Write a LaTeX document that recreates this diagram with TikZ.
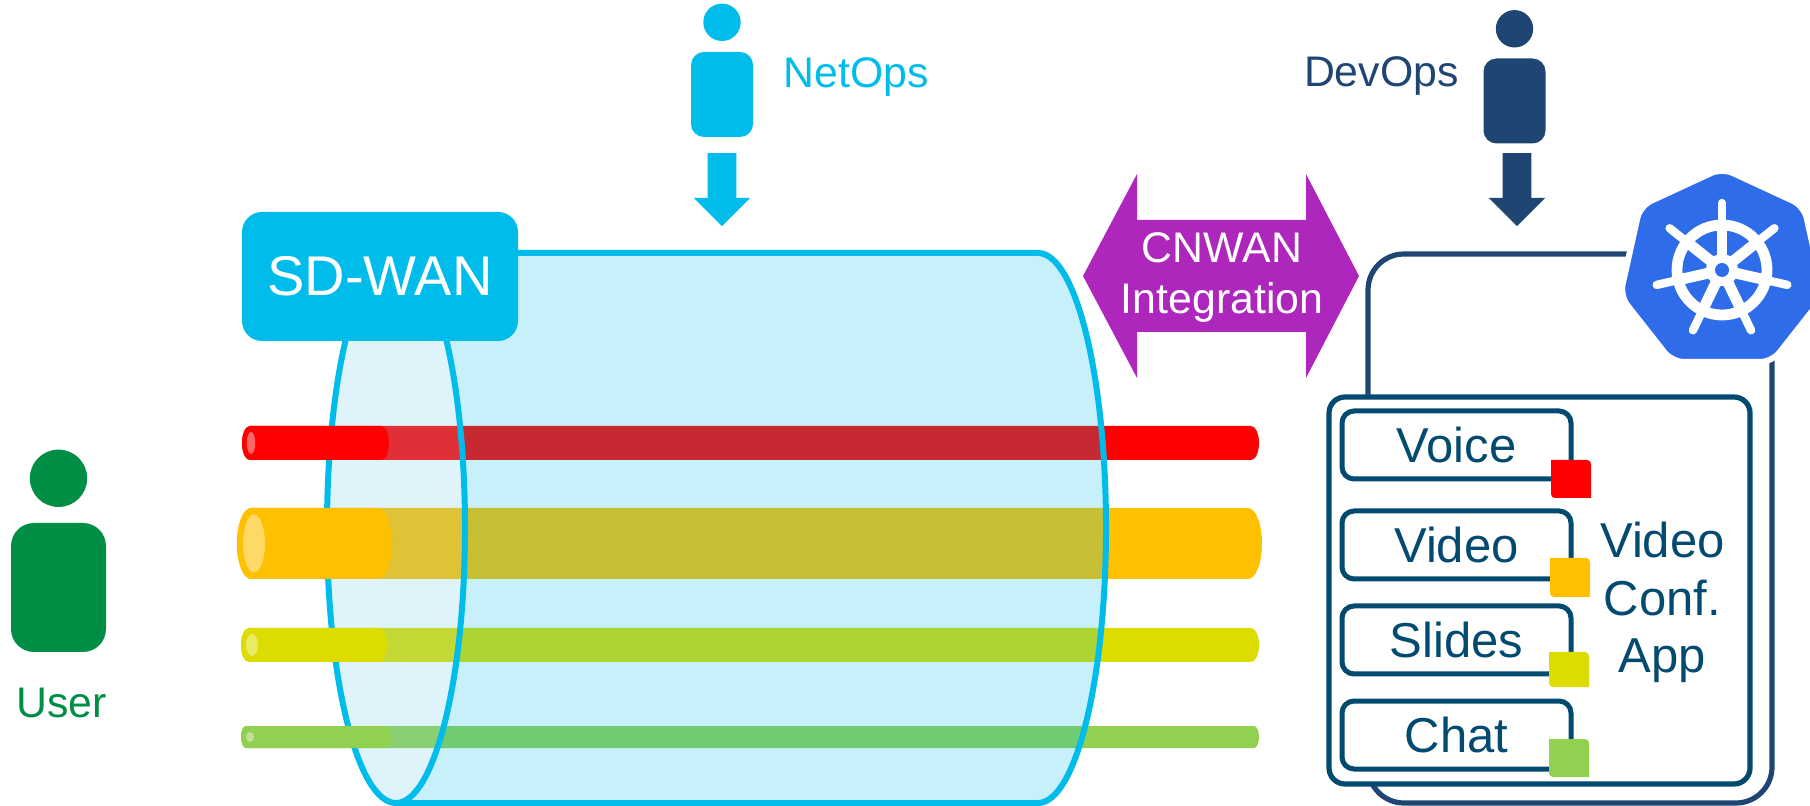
\documentclass[tikz,border=0pt]{standalone}
\usepackage{fontspec}
\setmainfont{Liberation Sans}
\usetikzlibrary{positioning,shapes.arrows,calc}

\definecolor{wancyan}{HTML}{00BCEB}
\definecolor{wanglass}{RGB}{113,209,235}
\definecolor{userblue}{HTML}{1F4672}
\definecolor{appblue}{HTML}{024A70}
\definecolor{usergreen}{HTML}{008E46}
\definecolor{cnwanpurple}{HTML}{AE27BD}
\definecolor{helmblue}{HTML}{2F6CEA}
\definecolor{pipered}{HTML}{FF0000}
\definecolor{pipeorange}{HTML}{FFC000}
\definecolor{pipeyellow}{HTML}{DDDC00}
\definecolor{pipegreen}{HTML}{92D050}

\newcommand{\pipepath}[5]{({#4+#3},{#1-#2}) -- ({#5-#3},{#1-#2})
  arc[start angle=-90,end angle=90,x radius=#3,y radius=#2] -- ({#4+#3},{#1+#2})
  arc[start angle=90,end angle=270,x radius=#3,y radius=#2] -- cycle}

\tikzset{
  smalltext/.style={font=\fontsize{21.4}{25.5}\selectfont},
  apptext/.style={font=\fontsize{24.5}{28.75}\selectfont,text=appblue},
  bighead/.style={circle,inner sep=0pt,outer sep=0pt,minimum size=28.7pt},
  bigbody/.style={rectangle,inner sep=0pt,outer sep=0pt,rounded corners=11.5pt,
    minimum width=47.5pt,minimum height=64.5pt},
  head/.style={circle,inner sep=0pt,outer sep=0pt,minimum size=18.7pt},
  body/.style={rectangle,inner sep=0pt,outer sep=0pt,rounded corners=6.5pt,
    minimum width=31pt,minimum height=42.5pt},
  downarrow/.style={single arrow,shape border rotate=270,inner xsep=7pt,inner ysep=0pt,outer sep=0pt,
    minimum height=36.5pt,single arrow head extend=7pt,single arrow tip angle=90,
    single arrow head indent=0pt},
  compbox/.style={draw=appblue,line width=2.5pt,fill=white,rectangle,rounded corners=6pt,
    inner sep=0pt,outer sep=0pt,minimum width=114.5pt,minimum height=34pt,apptext},
  wanline/.style={draw=wancyan,line width=3pt}
}

\begin{document}
\begin{tikzpicture}[x=.5pt,y=-.5pt]
  \useasboundingbox (0,0) rectangle (1810,806);

  % Define people
  \node[bigbody, fill=usergreen] (userbody) at (58.5,587.5) {};
  \node[bighead, fill=usergreen, above=8pt of userbody] (userhead) {};
  \node[smalltext, text=usergreen, anchor=base] (userlabel) at (61.5,718) {User};

  \node[body, fill=wancyan] (netopsbody) at (722,94.5) {};
  \node[head, fill=wancyan, above=5.5pt of netopsbody] (netopshead) {};
  \node[smalltext, text=wancyan, anchor=base west, inner xsep=0pt] (netopslabel) at (783,88) {NetOps};
  \node[downarrow, fill=wancyan] (netopsarrow) at (722,182.5) {};

  \node[body, fill=userblue] (devopsbody) at (1514.5,101) {};
  \node[head, fill=userblue, above=5.5pt of devopsbody] (devopshead) {};
  \node[smalltext, text=userblue, anchor=base east, inner xsep=0pt] (devopslabel) at (1459,87) {DevOps};
  \node[downarrow, fill=userblue] (devopsarrow) at (1517,182.5) {};

  % Pipes behind the tunnel
  \foreach \py/\ph/\pr/\pl/\pe/\pc in {443/17/8/242/1259/pipered, 543.5/35.5/14/237/1262/pipeorange,
      645/17/8/241/1259/pipeyellow, 737/11/5/241/1259/pipegreen} {
    \fill[\pc] \pipepath{\py}{\ph}{\pr}{\pl}{\pe};
  }

  % Tunnel
  \fill[wancyan, fill opacity=.22] (396,253) -- (1038,253)
    arc[start angle=-90,end angle=90,x radius=68,y radius=275] -- (396,803)
    arc[start angle=90,end angle=-90,x radius=69,y radius=275] -- cycle;
  \fill[wanglass, fill opacity=.23] (396,528) ellipse [x radius=69,y radius=275];
  \draw[wanline] (396,253) -- (1038,253)
    arc[start angle=-90,end angle=90,x radius=68,y radius=275] -- (396,803);
  \draw[wanline] (396,528) ellipse [x radius=69,y radius=275];

  % Pipe ends in front of the tunnel
  \foreach \py/\ph/\pr/\pl/\ps/\pc/\hx/\hr/\hs in {443/17/8/242/389/pipered/251/4.3/11,
      543.5/35.5/14/237/392/pipeorange/254/11/29, 645/17/8/241/387/pipeyellow/252/6/11,
      737/11/5/241/391/pipegreen/250/4/5} {
    \fill[\pc] \pipepath{\py}{\ph}{\pr}{\pl}{\ps};
    \fill[white, fill opacity=.4] (\hx,\py) ellipse [x radius=\hr,y radius=\hs];
  }

  \node[fill=wancyan, rectangle, rounded corners=10pt, inner sep=0pt, outer sep=0pt,
    minimum width=138pt, minimum height=64.5pt, text=white,
    font=\fontsize{28}{30}\selectfont] (sdwan) at (380,276.5) {SD-WAN};

  % Integration arrow
  \fill[cnwanpurple] (1083,276) -- (1137,174) -- (1137,220) -- (1306,220) -- (1306,174) -- (1359,276)
    -- (1306,378) -- (1306,332) -- (1137,332) -- (1137,378) -- cycle;
  \node[smalltext, text=white, align=center, inner sep=0pt] (cnwan) at (1222,278) {CNWAN\\Integration};

  % Cluster and app
  \node[draw=userblue, line width=2.6pt, rectangle, rounded corners=18pt, inner sep=0pt,
    minimum width=202pt, minimum height=274.5pt] (cluster) at (1570,528.5) {};
  \node[draw=appblue, line width=2.6pt, fill=white, rectangle, rounded corners=8pt, inner sep=0pt,
    minimum width=210.5pt, minimum height=193.5pt] (app) at (1539.5,590.5) {};

  \node[compbox] (voice) at (1456.5,445) {Voice};
  \node[compbox, below=16pt of voice] (video) {Video};
  \node[compbox, below=13.5pt of video] (slides) {Slides};
  \node[compbox, below=13.5pt of slides] (chat) {Chat};
  \node[apptext, align=center, inner sep=0pt] (applabel) at (1662.5,602.5) {Video\\Conf.\\App};

  \foreach \qx/\qy/\qw/\qh/\qc in {1551/460/40/38/pipered, 1550/558/40/39/pipeorange,
      1549/652/40/35/pipeyellow, 1549/739/40/38/pipegreen} {
    \fill[\qc] (\qx,\qy) [rounded corners=2pt] -- (\qx+\qw,\qy) [sharp corners] -- (\qx+\qw,\qy+\qh)
      [rounded corners=2pt] -- (\qx,\qy+\qh) [sharp corners] -- cycle;
  }

  % Helm logo
  \begin{scope}
    \clip (0,0) rectangle (1810,806);
    \filldraw[helmblue, draw=white, line width=3pt, rounded corners=6pt] (1722,168) -- (1804,206)
      -- (1824,296) -- (1772,362) -- (1672,362) -- (1620,296) -- (1640,206) -- cycle;
    \coordinate (helm) at (1722,270);
    \draw[white, line width=5.4pt] (helm) circle [radius=45];
    \foreach \k in {0,...,6} {
      \draw[white, line width=5.4pt] (helm) -- +({-90+\k*360/7}:42);
      \draw[white, line width=4.2pt, line cap=round] ($(helm)+({-90+\k*360/7}:45)$) -- +({-90+\k*360/7}:22);
    }
    \fill[white] (helm) circle [radius=16];
    \fill[helmblue] (helm) circle [radius=7];
  \end{scope}
\end{tikzpicture}
\end{document}
